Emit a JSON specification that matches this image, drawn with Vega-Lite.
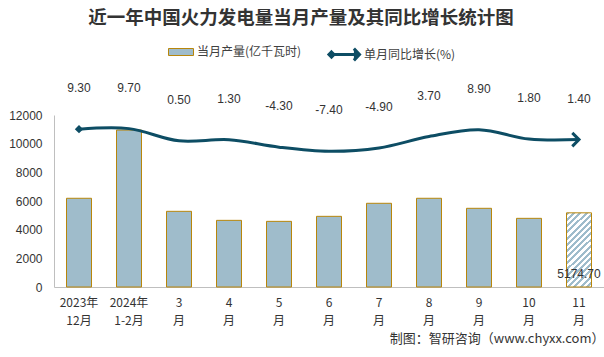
{
  "$schema": "https://vega.github.io/schema/vega-lite/v6.json",
  "width": 550,
  "height": 172,
  "autosize": {"type": "none"},
  "padding": {"left": 54, "top": 115, "right": 0, "bottom": 70},
  "background": "white",
  "title": {
    "text": "近一年中国火力发电量当月产量及其同比增长统计图",
    "font": "Noto Sans CJK SC",
    "fontSize": 18.5,
    "fontWeight": "bold",
    "color": "#333333",
    "anchor": "middle",
    "frame": "group",
    "dx": -28,
    "offset": 12
  },
  "config": {
    "view": {"stroke": null},
    "locale": {"number": {"decimal": ".", "thousands": ",", "grouping": [3], "currency": ["", ""], "minus": "-"}},
    "axis": {"grid": false, "ticks": false, "domainColor": "#bfbfbf", "labelColor": "#333333"}
  },
  "data": {
    "values": [
      {"month": "2023年\n12月", "output": 6190, "growth": 9.3},
      {"month": "2024年\n1-2月", "output": 10950, "growth": 9.7},
      {"month": "3\n月", "output": 5280, "growth": 0.5},
      {"month": "4\n月", "output": 4650, "growth": 1.3},
      {"month": "5\n月", "output": 4580, "growth": -4.3},
      {"month": "6\n月", "output": 4930, "growth": -7.4},
      {"month": "7\n月", "output": 5840, "growth": -4.9},
      {"month": "8\n月", "output": 6190, "growth": 3.7},
      {"month": "9\n月", "output": 5490, "growth": 8.9},
      {"month": "10\n月", "output": 4790, "growth": 1.8},
      {"month": "11\n月", "output": 5174.7, "growth": 1.4}
    ]
  },
  "encoding": {
    "x": {
      "field": "month",
      "type": "nominal",
      "sort": null,
      "scale": {"paddingInner": 0.5, "paddingOuter": 0.25},
      "axis": {
        "labelAngle": 0,
        "labelExpr": "split(datum.label, '\\n')",
        "labelFont": "Noto Sans CJK SC",
        "labelFontSize": 12,
        "labelLineHeight": 18,
        "labelPadding": 10,
        "title": "制图：智研咨询（www.chyxx.com）",
        "titleFont": "Noto Sans CJK SC",
        "titleFontSize": 13,
        "titleFontWeight": "normal",
        "titleColor": "#333333",
        "titleAnchor": "end",
        "titlePadding": 6
      }
    }
  },
  "layer": [
    {
      "encoding": {
        "y": {
          "field": "output",
          "type": "quantitative",
          "scale": {"domain": [0, 12000]},
          "axis": {
            "values": [0, 2000, 4000, 6000, 8000, 10000, 12000],
            "format": "d",
            "labelOverlap": false,
            "labelFont": "Liberation Sans",
            "labelFontSize": 12,
            "labelPadding": 12,
            "title": null
          }
        }
      },
      "layer": [
        {
          "transform": [{"filter": "datum.month !== '11\\n月'"}],
          "mark": {"type": "bar", "stroke": "#b8860b", "strokeWidth": 1},
          "encoding": {
            "fill": {
              "datum": "当月产量(亿千瓦时)",
              "scale": {"range": ["#9fbccb"]},
              "legend": {
                "title": null,
                "orient": "none",
                "legendX": 114,
                "legendY": -76,
                "symbolType": "M-1,-0.28H1V0.28H-1Z",
                "symbolSize": 625,
                "symbolStrokeColor": "#b8860b",
                "symbolStrokeWidth": 1,
                "symbolOpacity": 1,
                "labelFont": "Noto Sans CJK SC",
                "labelFontSize": 12,
                "labelColor": "#404040",
                "labelOffset": 3
              }
            }
          }
        },
        {
          "transform": [{"filter": "datum.month === '11\\n月'"}],
          "mark": {
            "type": "bar",
            "stroke": "#b8860b",
            "strokeWidth": 1,
            "fill": {
              "gradient": "linear",
              "x1": 0, "y1": 0, "x2": 0.4, "y2": 1.2,
              "stops": [
                {"offset": 0, "color": "#9fbccb"}, {"offset": 0.03, "color": "#9fbccb"}, {"offset": 0.03, "color": "#ffffff"}, {"offset": 0.0625, "color": "#ffffff"},
                {"offset": 0.0625, "color": "#9fbccb"}, {"offset": 0.0925, "color": "#9fbccb"}, {"offset": 0.0925, "color": "#ffffff"}, {"offset": 0.125, "color": "#ffffff"},
                {"offset": 0.125, "color": "#9fbccb"}, {"offset": 0.155, "color": "#9fbccb"}, {"offset": 0.155, "color": "#ffffff"}, {"offset": 0.1875, "color": "#ffffff"},
                {"offset": 0.1875, "color": "#9fbccb"}, {"offset": 0.2175, "color": "#9fbccb"}, {"offset": 0.2175, "color": "#ffffff"}, {"offset": 0.25, "color": "#ffffff"},
                {"offset": 0.25, "color": "#9fbccb"}, {"offset": 0.28, "color": "#9fbccb"}, {"offset": 0.28, "color": "#ffffff"}, {"offset": 0.3125, "color": "#ffffff"},
                {"offset": 0.3125, "color": "#9fbccb"}, {"offset": 0.3425, "color": "#9fbccb"}, {"offset": 0.3425, "color": "#ffffff"}, {"offset": 0.375, "color": "#ffffff"},
                {"offset": 0.375, "color": "#9fbccb"}, {"offset": 0.405, "color": "#9fbccb"}, {"offset": 0.405, "color": "#ffffff"}, {"offset": 0.4375, "color": "#ffffff"},
                {"offset": 0.4375, "color": "#9fbccb"}, {"offset": 0.4675, "color": "#9fbccb"}, {"offset": 0.4675, "color": "#ffffff"}, {"offset": 0.5, "color": "#ffffff"},
                {"offset": 0.5, "color": "#9fbccb"}, {"offset": 0.53, "color": "#9fbccb"}, {"offset": 0.53, "color": "#ffffff"}, {"offset": 0.5625, "color": "#ffffff"},
                {"offset": 0.5625, "color": "#9fbccb"}, {"offset": 0.5925, "color": "#9fbccb"}, {"offset": 0.5925, "color": "#ffffff"}, {"offset": 0.625, "color": "#ffffff"},
                {"offset": 0.625, "color": "#9fbccb"}, {"offset": 0.655, "color": "#9fbccb"}, {"offset": 0.655, "color": "#ffffff"}, {"offset": 0.6875, "color": "#ffffff"},
                {"offset": 0.6875, "color": "#9fbccb"}, {"offset": 0.7175, "color": "#9fbccb"}, {"offset": 0.7175, "color": "#ffffff"}, {"offset": 0.75, "color": "#ffffff"},
                {"offset": 0.75, "color": "#9fbccb"}, {"offset": 0.78, "color": "#9fbccb"}, {"offset": 0.78, "color": "#ffffff"}, {"offset": 0.8125, "color": "#ffffff"},
                {"offset": 0.8125, "color": "#9fbccb"}, {"offset": 0.8425, "color": "#9fbccb"}, {"offset": 0.8425, "color": "#ffffff"}, {"offset": 0.875, "color": "#ffffff"},
                {"offset": 0.875, "color": "#9fbccb"}, {"offset": 0.905, "color": "#9fbccb"}, {"offset": 0.905, "color": "#ffffff"}, {"offset": 0.9375, "color": "#ffffff"},
                {"offset": 0.9375, "color": "#9fbccb"}, {"offset": 0.9675, "color": "#9fbccb"}, {"offset": 0.9675, "color": "#ffffff"}, {"offset": 1, "color": "#ffffff"}
              ]
            }
          }
        },
        {
          "transform": [{"filter": "datum.month === '11\\n月'"}],
          "mark": {"type": "text", "font": "Liberation Sans", "fontSize": 12, "color": "#333333", "baseline": "bottom", "dy": -6},
          "encoding": {
            "y": {"datum": 0, "type": "quantitative"},
            "text": {"field": "output", "type": "quantitative", "format": ".2f"}
          }
        }
      ]
    },
    {
      "encoding": {
        "y": {"field": "growth", "type": "quantitative", "scale": {"domain": [-110, 20]}, "axis": null}
      },
      "layer": [
        {
          "mark": {"type": "line", "interpolate": "catmull-rom", "strokeWidth": 3},
          "encoding": {
            "stroke": {
              "datum": "单月同比增长(%)",
              "scale": {"range": ["#0d4d64"]},
              "legend": {
                "title": null,
                "orient": "none",
                "legendX": 276,
                "legendY": -76,
                "symbolType": "M-1,0H0.95M0.6,-0.42L1,0L0.6,0.42M-1,-0.18L-0.82,0L-1,0.18L-1.18,0Z",
                "symbolSize": 784,
                "symbolStrokeWidth": 3,
                "symbolFillColor": "#0d4d64",
                "labelFont": "Noto Sans CJK SC",
                "labelFontSize": 12,
                "labelColor": "#404040",
                "labelOffset": 3
              }
            }
          }
        },
        {
          "transform": [{"filter": "datum.month === '2023年\\n12月'"}],
          "mark": {"type": "point", "shape": "diamond", "filled": true, "size": 70, "color": "#0d4d64", "opacity": 1}
        },
        {
          "transform": [{"filter": "datum.month === '11\\n月'"}],
          "mark": {"type": "point", "shape": "M-1,-1L0,0L-1,1", "filled": false, "size": 180, "stroke": "#0d4d64", "strokeWidth": 3, "opacity": 1}
        },
        {
          "mark": {"type": "text", "font": "Liberation Sans", "fontSize": 12, "color": "#333333", "dy": -41},
          "encoding": {
            "text": {"field": "growth", "type": "quantitative", "format": ".2f"}
          }
        }
      ]
    }
  ],
  "resolve": {"scale": {"y": "independent"}, "axis": {"y": "independent"}}
}
